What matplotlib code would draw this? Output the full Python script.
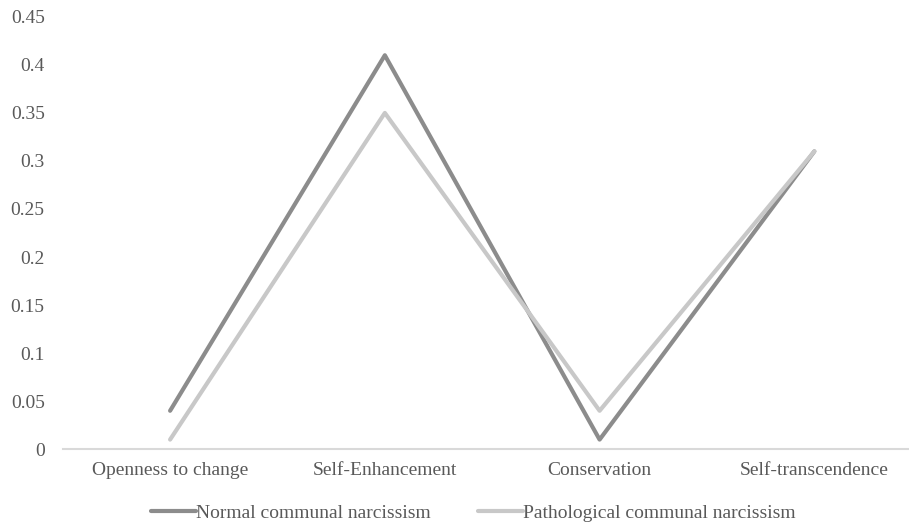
import matplotlib.pyplot as plt

# Data
categories = ["Openness to change", "Self-Enhancement", "Conservation", "Self-transcendence"]
normal_values = [0.04, 0.41, 0.01, 0.31]
pathological_values = [0.01, 0.35, 0.04, 0.31]
y_ticks = [0, 0.05, 0.1, 0.15, 0.2, 0.25, 0.3, 0.35, 0.4, 0.45]
y_tick_labels = ["0", "0.05", "0.1", "0.15", "0.2", "0.25", "0.3", "0.35", "0.4", "0.45"]

plt.rcParams["font.family"] = ["Liberation Serif", "DejaVu Serif"]
text_color = "#595959"

fig = plt.figure(figsize=(9.09, 5.26), dpi=100)
ax = fig.add_axes([0.069, 0.146, 0.945, 0.822])

x = list(range(len(categories)))
ax.plot(x, normal_values, color="#8c8c8c", linewidth=3, solid_capstyle="round",
        label="Normal communal narcissism")
ax.plot(x, pathological_values, color="#c8c8c8", linewidth=3, solid_capstyle="round",
        label="Pathological communal narcissism")

ax.set_xlim(-0.5, 3.5)
ax.set_ylim(0, 0.45)
ax.set_yticks(y_ticks)
ax.set_yticklabels(y_tick_labels)
ax.set_xticks(x)
ax.set_xticklabels(categories)
ax.tick_params(axis="both", length=0, labelsize=14, labelcolor=text_color)
ax.tick_params(axis="x", pad=9)
ax.tick_params(axis="y", pad=13)

for side in ["top", "right", "left"]:
    ax.spines[side].set_visible(False)
ax.spines["bottom"].set_color("#d9d9d9")
ax.spines["bottom"].set_linewidth(1.5)

leg = fig.legend(loc="lower center", bbox_to_anchor=(0.521, -0.025), ncol=2, frameon=False,
                 fontsize=14, handlelength=2.3, handletextpad=0.0, columnspacing=2.45)
for t in leg.get_texts():
    t.set_color(text_color)

fig.savefig("out.png", dpi=100)
